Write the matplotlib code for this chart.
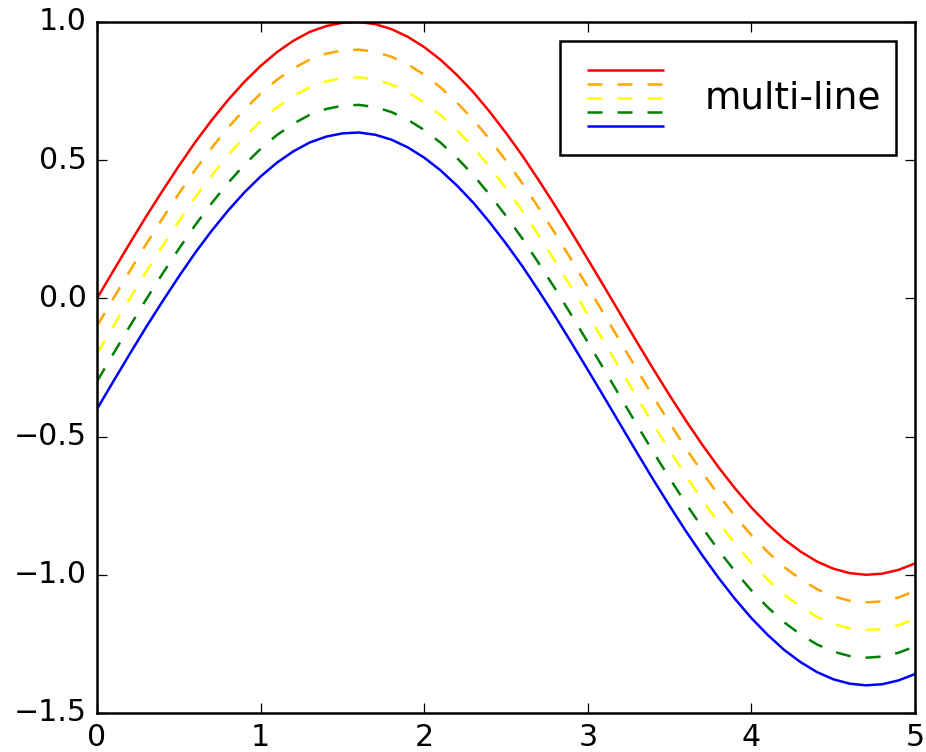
import numpy as np
import matplotlib
matplotlib.use('Agg')
import matplotlib.pyplot as plt
import matplotlib.collections as mcol
from matplotlib.legend_handler import HandlerLineCollection
from matplotlib.lines import Line2D

# sample positions and the top (red) curve
x_vals = [0.0, 0.1, 0.2, 0.3, 0.4, 0.5, 0.6, 0.7, 0.8, 0.9,
          1.0, 1.1, 1.2, 1.3, 1.4, 1.5, 1.6, 1.7, 1.8, 1.9,
          2.0, 2.1, 2.2, 2.3, 2.4, 2.5, 2.6, 2.7, 2.8, 2.9,
          3.0, 3.1, 3.2, 3.3, 3.4, 3.5, 3.6, 3.7, 3.8, 3.9,
          4.0, 4.1, 4.2, 4.3, 4.4, 4.5, 4.6, 4.7, 4.8, 4.9, 5.0]
top_curve = [0.000, 0.100, 0.199, 0.296, 0.389, 0.479, 0.565, 0.644, 0.717, 0.783,
             0.841, 0.891, 0.932, 0.964, 0.985, 0.997, 1.000, 0.992, 0.974, 0.946,
             0.909, 0.863, 0.808, 0.746, 0.675, 0.598, 0.516, 0.427, 0.335, 0.239,
             0.141, 0.042, -0.058, -0.158, -0.256, -0.351, -0.443, -0.530, -0.612, -0.688,
             -0.757, -0.818, -0.872, -0.916, -0.952, -0.978, -0.994, -1.000, -0.996, -0.982,
             -0.959]
# vertical shift of each line relative to the top curve
offsets = [0.0, -0.1, -0.2, -0.3, -0.4]
colors = ['red', 'orange', 'yellow', 'green', 'blue']
styles = ['solid', 'dashed', 'dashed', 'dashed', 'solid']
legend_label = 'multi-line'


class HandlerDashedLines(HandlerLineCollection):
    def create_artists(self, legend, orig_handle, xdescent, ydescent,
                       width, height, fontsize, trans):
        numlines = len(orig_handle.get_segments())
        xdata, _ = self.get_xdata(legend, xdescent, ydescent,
                                  width, height, fontsize)
        leglines = []
        ydata = np.full_like(xdata, height / (numlines + 1))
        for i in range(numlines):
            legline = Line2D(xdata, ydata * (numlines - i) - ydescent)
            self.update_prop(legline, orig_handle, legend)
            try:
                color = orig_handle.get_colors()[i]
            except IndexError:
                color = orig_handle.get_colors()[0]
            try:
                dashes = orig_handle.get_dashes()[i]
            except IndexError:
                dashes = orig_handle.get_dashes()[0]
            try:
                lw = orig_handle.get_linewidths()[i]
            except IndexError:
                lw = orig_handle.get_linewidths()[0]
            if dashes[1] is not None:
                legline.set_dashes(dashes[1])
            legline.set_color(color)
            legline.set_transform(trans)
            legline.set_linewidth(lw)
            leglines.append(legline)
        return leglines


plt.style.use('classic')
fig = plt.figure(figsize=(926 / 180, 752 / 180), dpi=180)
ax = fig.add_axes([0.1048, 0.0519, 0.8834, 0.9189])

x = np.array(x_vals)
base = np.array(top_curve)
for off, c, ls in zip(offsets, colors, styles):
    ax.plot(x, base + off, color=c, linestyle=ls)

ax.set_xlim(0, 5)
ax.set_ylim(-1.5, 1.0)

line = [[(0, 0)]]
lc = mcol.LineCollection(len(offsets) * line, linestyles=styles, colors=colors)
ax.legend([lc], [legend_label], handler_map={type(lc): HandlerDashedLines()},
          handlelength=2.65, handleheight=3.1, fontsize=15)

fig.savefig('out.png', dpi=180)
